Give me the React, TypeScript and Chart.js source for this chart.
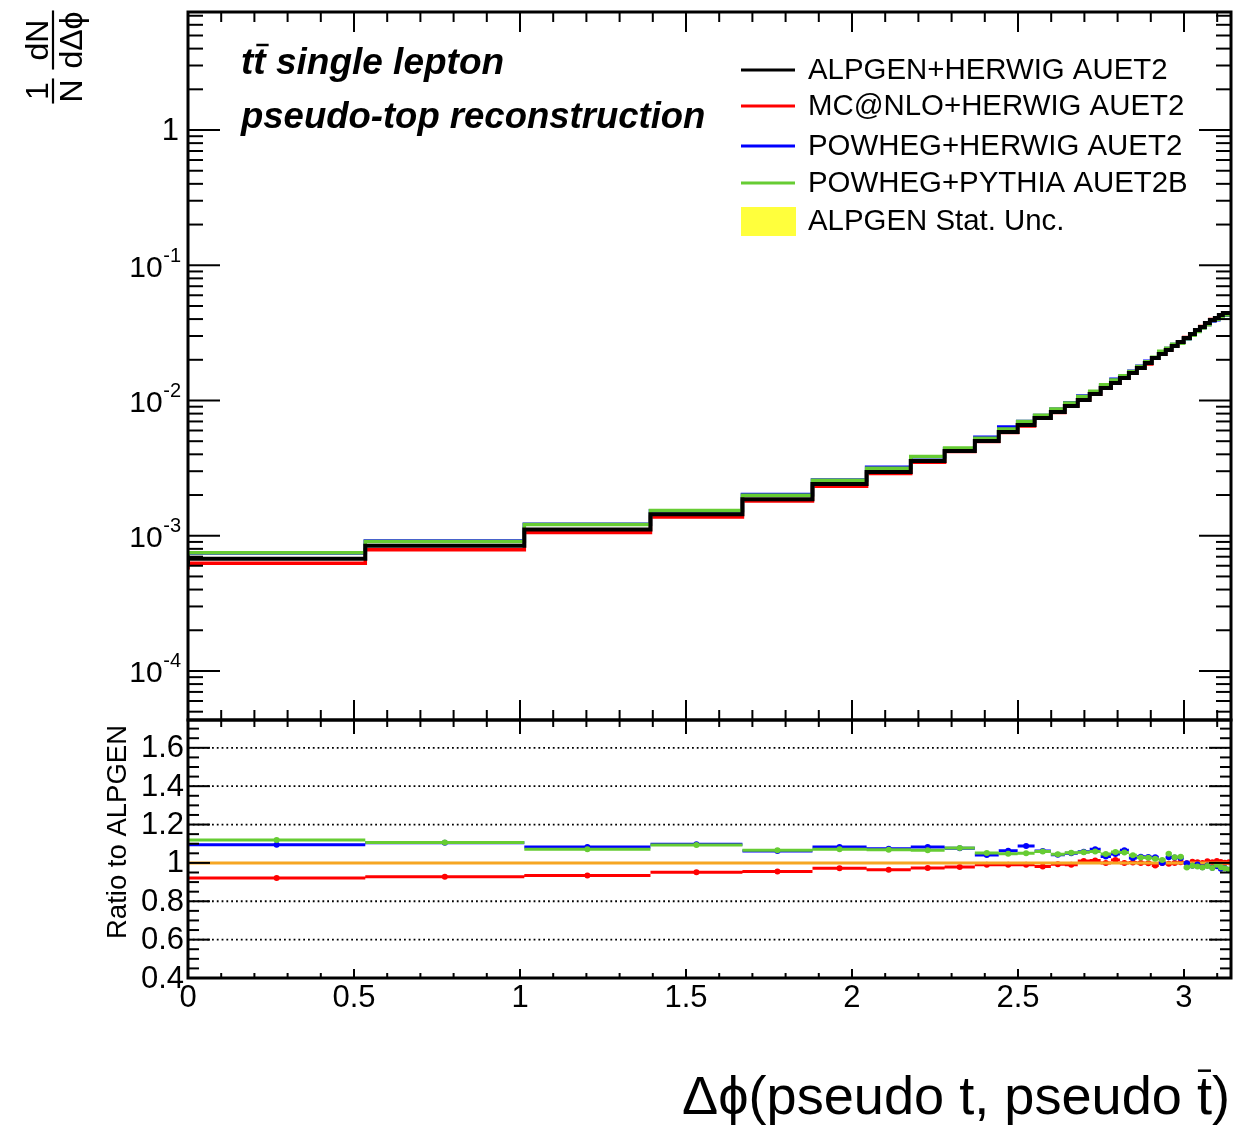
import React, { useEffect, useRef } from "react";
import { Chart, registerables } from "chart.js";

Chart.register(...registerables);

// ---------------- data ----------------
const EDGES = [
  0, 0.534, 1.013, 1.393, 1.67, 1.881, 2.044, 2.177, 2.279, 2.37,
  2.442, 2.499, 2.55, 2.599, 2.641, 2.68, 2.716, 2.749, 2.78, 2.807,
  2.834, 2.858, 2.882, 2.903, 2.924, 2.945, 2.963, 2.981, 2.999, 3.018,
  3.033, 3.048, 3.063, 3.078, 3.093, 3.105, 3.117, 3.129, 3.1416,
];

const ALPGEN_HERWIG = [
  6.1e-4, 6.75e-4, 8.45e-4, 1.11e-3, 1.44e-3, 1.86e-3, 2.41e-3, 2.96e-3, 3.57e-3, 4.23e-3,
  5.02e-3, 5.85e-3, 6.59e-3, 7.43e-3, 8.22e-3, 9.1e-3, 1.008e-2, 1.117e-2, 1.237e-2, 1.347e-2,
  1.466e-2, 1.597e-2, 1.738e-2, 1.892e-2, 2.06e-2, 2.21e-2, 2.36e-2, 2.53e-2, 2.71e-2, 2.9e-2,
  3.1e-2, 3.32e-2, 3.49e-2, 3.74e-2, 3.94e-2, 4.07e-2, 4.29e-2, 4.44e-2,
];

const RATIO_MCNLO_HERWIG = [
  0.921, 0.928, 0.934, 0.951, 0.955, 0.972, 0.964, 0.974, 0.979, 0.99,
  0.99, 0.99, 0.981, 0.993, 0.99, 1.01, 1.012, 1.0, 1.015, 1.0,
  1.002, 0.999, 0.998, 0.986, 1.0, 0.996, 1.0, 1.004, 0.998, 1.006,
  1.004, 0.999, 1.008, 1.003, 1.01, 1.005, 1.001, 1.004,
];

const RATIO_POWHEG_HERWIG = [
  1.095, 1.105, 1.083, 1.097, 1.062, 1.083, 1.074, 1.083, 1.076, 1.041,
  1.064, 1.088, 1.062, 1.042, 1.05, 1.058, 1.071, 1.033, 1.046, 1.066,
  1.026, 1.032, 1.031, 1.03, 1.0, 1.03, 1.028, 1.026, 0.998, 0.985,
  0.992, 0.978, 0.987, 0.975, 0.982, 0.97, 0.974, 0.962,
];

const RATIO_POWHEG_PYTHIA = [
  1.119, 1.107, 1.071, 1.093, 1.066, 1.071, 1.069, 1.066, 1.078, 1.052,
  1.048, 1.05, 1.06, 1.045, 1.053, 1.055, 1.06, 1.047, 1.057, 1.054,
  1.04, 1.028, 1.027, 1.022, 1.015, 1.048, 1.03, 1.032, 0.976, 0.985,
  0.981, 0.976, 0.984, 0.973, 0.99, 0.978, 0.972, 0.966,
];

const X_MAJOR = [0, 0.5, 1, 1.5, 2, 2.5, 3];
const X_LABELS = ["0", "0.5", "1", "1.5", "2", "2.5", "3"];
const LOG_EXPONENTS = [-4, -3, -2, -1, 0];
const RATIO_MAJOR = [0.4, 0.6, 0.8, 1, 1.2, 1.4, 1.6];
const RATIO_LABELS = ["0.4", "0.6", "0.8", "1", "1.2", "1.4", "1.6"];
const RATIO_GRID = [0.6, 0.8, 1.2, 1.4, 1.6];

const NAMES = ["ALPGEN+HERWIG AUET2", "MC@NLO+HERWIG AUET2", "POWHEG+HERWIG AUET2", "POWHEG+PYTHIA AUET2B"];
const COLORS = ["#000000", "#ff0000", "#0000ff", "#66cc33"];
const BAND_LABEL = "ALPGEN Stat. Unc.";
const BAND_COLOR = "#ffff3c";
const ONE_COLOR = "#f6a623";

// ---------------- layout ----------------
const FONT = '"Liberation Sans", Arial, Helvetica, sans-serif';
const W = 1257;
const TOP_H = 722;
const RAT_TOP = 700;
const RAT_H = 427;

// ---------------- helpers ----------------
const MCNLO_HERWIG = ALPGEN_HERWIG.map((v, i) => v * RATIO_MCNLO_HERWIG[i]);
const POWHEG_HERWIG = ALPGEN_HERWIG.map((v, i) => v * RATIO_POWHEG_HERWIG[i]);
const POWHEG_PYTHIA = ALPGEN_HERWIG.map((v, i) => v * RATIO_POWHEG_PYTHIA[i]);
const RATIO_ALPGEN = ALPGEN_HERWIG.map((v) => v / v);

function histPoints(vals: number[]) {
  const pts: any[] = vals.map((v, i) => ({ x: EDGES[i], y: v }));
  pts.push({ x: EDGES[EDGES.length - 1], y: vals[vals.length - 1] });
  return pts;
}
function segPoints(vals: number[]) {
  const pts: any[] = [];
  vals.forEach((v, i) => {
    pts.push({ x: EDGES[i], y: v }, { x: EDGES[i + 1], y: v }, { x: EDGES[i + 1], y: null });
  });
  return pts;
}
function centerPoints(vals: number[]) {
  return vals.map((v, i) => ({ x: (EDGES[i] + EDGES[i + 1]) / 2, y: v }));
}

function line(ctx: CanvasRenderingContext2D, x1: number, y1: number, x2: number, y2: number) {
  ctx.beginPath();
  ctx.moveTo(x1, y1);
  ctx.lineTo(x2, y2);
  ctx.stroke();
}

function xTicks(ctx: CanvasRenderingContext2D, xs: any, yEdge: number, dir: number, maj: number, min: number) {
  for (let k = 0; k <= 31; k++) {
    const px = xs.getPixelForValue(k / 10);
    const len = k % 5 === 0 ? maj : min;
    line(ctx, px, yEdge, px, yEdge + dir * len);
  }
}

// ---------------- plugins ----------------
const topDeco = {
  id: "topDeco",
  afterDatasetsDraw(chart: any) {
    const { ctx, chartArea: a, scales } = chart;
    const xs = scales.x;
    const ys = scales.y;
    ctx.save();
    ctx.strokeStyle = "#000";
    ctx.fillStyle = "#000";
    ctx.lineWidth = 2;
    xTicks(ctx, xs, a.top, 1, 20, 10);
    xTicks(ctx, xs, a.bottom, -1, 20, 10);
    for (let e = -5; e <= 0; e++) {
      for (let m = 1; m <= 9; m++) {
        const v = m * Math.pow(10, e);
        if (v < ys.min || v > ys.max) continue;
        const py = ys.getPixelForValue(v);
        const len = m === 1 ? 32 : 15;
        line(ctx, a.left, py, a.left + len, py);
        line(ctx, a.right, py, a.right - len, py);
      }
    }
    ctx.lineWidth = 3;
    ctx.strokeRect(a.left, a.top, a.right - a.left, a.bottom - a.top);

    // y tick labels
    ctx.textAlign = "right";
    ctx.textBaseline = "middle";
    LOG_EXPONENTS.forEach((e) => {
      const py = ys.getPixelForValue(Math.pow(10, e));
      if (e === 0) {
        ctx.font = `31px ${FONT}`;
        ctx.fillText("1", 179, py + 1);
      } else {
        const sup = `-${-e}`;
        ctx.font = `20px ${FONT}`;
        const sw = ctx.measureText(sup).width;
        ctx.fillText(sup, 181, py - 9);
        ctx.font = `30px ${FONT}`;
        ctx.fillText("10", 181 - sw - 0.5, py + 3);
      }
    });

    // y axis title: 1/N dN/dΔϕ (rotated)
    ctx.save();
    ctx.translate(53, 102);
    ctx.rotate(-Math.PI / 2);
    ctx.font = `32px ${FONT}`;
    ctx.textAlign = "center";
    ctx.textBaseline = "alphabetic";
    ctx.lineWidth = 2.2;
    const frac = (num: string, den: string, u: number) => {
      const w = Math.max(ctx.measureText(num).width, ctx.measureText(den).width) + 2;
      ctx.fillText(num, u, -5);
      ctx.fillText(den, u, 29);
      line(ctx, u - w / 2, 0, u + w / 2, 0);
    };
    frac("1", "N", 11);
    frac("dN", "d\u0394\u03d5", 62);
    ctx.restore();

    // titles
    ctx.textAlign = "left";
    ctx.textBaseline = "alphabetic";
    ctx.font = `italic bold 37px ${FONT}`;
    ctx.fillText("tt single lepton", 241, 74);
    const wt = ctx.measureText("t").width;
    ctx.lineWidth = 2.5;
    line(ctx, 241 + wt + 3, 45, 241 + 2 * wt + 3, 45);
    ctx.font = `italic bold 36.5px ${FONT}`;
    ctx.fillText("pseudo-top reconstruction", 241, 128);

    // legend
    const ly = [70, 106, 146, 183];
    ctx.font = `29.4px ${FONT}`;
    ctx.textBaseline = "middle";
    NAMES.forEach((n, i) => {
      ctx.strokeStyle = COLORS[i];
      ctx.lineWidth = 3;
      line(ctx, 741, ly[i], 795, ly[i]);
      ctx.fillStyle = "#000";
      ctx.fillText(n, 808, ly[i] + 1);
    });
    ctx.fillStyle = BAND_COLOR;
    ctx.fillRect(741, 207, 55, 29);
    ctx.fillStyle = "#000";
    ctx.fillText(BAND_LABEL, 808, 222);
    ctx.restore();
  },
};

const ratioDeco = {
  id: "ratioDeco",
  beforeDatasetsDraw(chart: any) {
    const { ctx, chartArea: a, scales } = chart;
    const ys = scales.y;
    ctx.save();
    ctx.strokeStyle = "#000";
    ctx.lineWidth = 1.8;
    ctx.setLineDash([1.8, 3]);
    RATIO_GRID.forEach((v) => {
      const py = ys.getPixelForValue(v);
      line(ctx, a.left, py, a.right, py);
    });
    ctx.restore();
  },
  afterDatasetsDraw(chart: any) {
    const { ctx, chartArea: a, scales } = chart;
    const xs = scales.x;
    const ys = scales.y;
    ctx.save();
    ctx.strokeStyle = "#000";
    ctx.fillStyle = "#000";
    ctx.lineWidth = 2;
    xTicks(ctx, xs, a.top, 1, 14, 7);
    xTicks(ctx, xs, a.bottom, -1, 9, 5);
    for (let k = 8; k <= 34; k++) {
      const py = ys.getPixelForValue(k * 0.05);
      const len = k % 4 === 0 ? 22 : 11;
      line(ctx, a.left, py, a.left + len, py);
      line(ctx, a.right, py, a.right - len, py);
    }
    ctx.lineWidth = 3;
    ctx.strokeRect(a.left, a.top, a.right - a.left, a.bottom - a.top);

    ctx.font = `31px ${FONT}`;
    ctx.textAlign = "right";
    ctx.textBaseline = "middle";
    RATIO_MAJOR.forEach((v, i) => {
      ctx.fillText(RATIO_LABELS[i], 184, ys.getPixelForValue(v) + 1);
    });
    ctx.textAlign = "center";
    X_MAJOR.forEach((v, i) => {
      ctx.fillText(X_LABELS[i], xs.getPixelForValue(v), 998 - RAT_TOP);
    });

    ctx.save();
    ctx.translate(118, 832 - RAT_TOP);
    ctx.rotate(-Math.PI / 2);
    ctx.font = `27.5px ${FONT}`;
    ctx.textAlign = "center";
    ctx.textBaseline = "middle";
    ctx.fillText("Ratio to ALPGEN", 0, 0);
    ctx.restore();

    const txt = "\u0394\u03d5(pseudo t, pseudo t)";
    ctx.font = `50px ${FONT}`;
    const w0 = ctx.measureText(txt).width;
    const size = (50 * 548) / w0;
    ctx.font = `${size}px ${FONT}`;
    ctx.textAlign = "right";
    ctx.textBaseline = "alphabetic";
    const base = 1114 - RAT_TOP;
    ctx.fillText(txt, 1230, base);
    const wc = ctx.measureText(")").width;
    const wtt = ctx.measureText("t").width;
    const tr = 1230 - wc;
    ctx.lineWidth = 2.5;
    line(ctx, tr - wtt + 1, base - 0.8 * size, tr - 1, base - 0.8 * size);
    ctx.restore();
  },
};

// ---------------- configs ----------------
function topConfig(): any {
  const series = [ALPGEN_HERWIG, MCNLO_HERWIG, POWHEG_HERWIG, POWHEG_PYTHIA];
  const orders = [0, 3, 2, 1];
  return {
    type: "line",
    data: {
      datasets: series.map((s, i) => ({
        label: NAMES[i],
        data: histPoints(s),
        borderColor: COLORS[i],
        borderWidth: i === 0 ? 4 : 3.5,
        stepped: "after",
        pointRadius: 0,
        fill: false,
        order: orders[i],
      })),
    },
    options: {
      responsive: false,
      animation: false,
      devicePixelRatio: 1,
      layout: { padding: { left: 188, right: 26, top: 12, bottom: 2 } },
      scales: {
        x: { type: "linear", min: 0, max: Math.PI, display: false },
        y: { type: "logarithmic", min: 4.34e-5, max: 7.46, display: false },
      },
      plugins: { legend: { display: false }, tooltip: { enabled: false } },
    },
    plugins: [topDeco],
  };
}

function ratioConfig(): any {
  const ratios = [RATIO_MCNLO_HERWIG, RATIO_POWHEG_HERWIG, RATIO_POWHEG_PYTHIA];
  const cols = [COLORS[1], COLORS[2], COLORS[3]];
  const orders = [10, 6, 4];
  const ds: any[] = [];
  ratios.forEach((r, i) => {
    ds.push({
      label: NAMES[i + 1] + " ratio",
      data: segPoints(r),
      borderColor: cols[i],
      borderWidth: 3,
      pointRadius: 0,
      fill: false,
      spanGaps: false,
      order: orders[i],
    });
    ds.push({
      label: NAMES[i + 1] + " points",
      data: centerPoints(r),
      showLine: false,
      pointRadius: 3,
      pointBorderWidth: 0,
      pointBackgroundColor: cols[i],
      borderColor: cols[i],
      order: orders[i] - 1,
    });
  });
  ds.push({
    label: "ALPGEN ratio",
    data: segPoints(RATIO_ALPGEN),
    borderColor: ONE_COLOR,
    borderWidth: 3,
    pointRadius: 0,
    fill: false,
    order: 8,
  });
  return {
    type: "line",
    data: { datasets: ds },
    options: {
      responsive: false,
      animation: false,
      devicePixelRatio: 1,
      layout: { padding: { left: 188, right: 26, top: 20, bottom: RAT_H - 278 } },
      scales: {
        x: { type: "linear", min: 0, max: Math.PI, display: false },
        y: { type: "linear", min: 0.4, max: 1.745, display: false },
      },
      plugins: { legend: { display: false }, tooltip: { enabled: false } },
    },
    plugins: [ratioDeco],
  };
}

export default function App() {
  const topRef = useRef<HTMLCanvasElement>(null);
  const ratRef = useRef<HTMLCanvasElement>(null);
  useEffect(() => {
    const c1 = new Chart(topRef.current as HTMLCanvasElement, topConfig());
    const c2 = new Chart(ratRef.current as HTMLCanvasElement, ratioConfig());
    return () => {
      c1.destroy();
      c2.destroy();
    };
  }, []);
  return (
    <div style={{ position: "absolute", left: 0, top: 0, width: W, height: 1127, background: "#fff" }}>
      <canvas
        ref={topRef}
        width={W}
        height={TOP_H}
        style={{ position: "absolute", left: 0, top: 0, width: W, height: TOP_H }}
      />
      <canvas
        ref={ratRef}
        width={W}
        height={RAT_H}
        style={{ position: "absolute", left: 0, top: RAT_TOP, width: W, height: RAT_H }}
      />
    </div>
  );
}
